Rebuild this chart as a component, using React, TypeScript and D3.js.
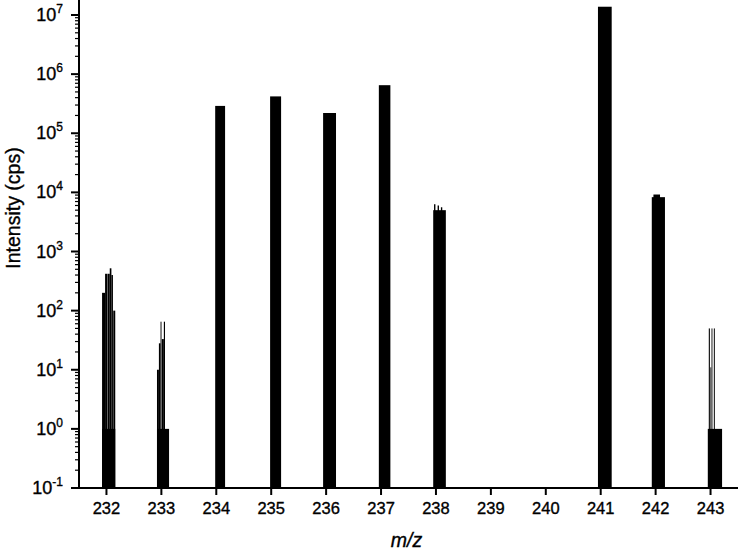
import React from 'react';
import * as d3 from 'd3';

// chart size and plot edges
const width = 742;
const height = 554;
const left = 79;
const right = 738;
const bottom = 488;
const top = 15; // position of 10^7

const mzTicks = [232, 233, 234, 235, 236, 237, 238, 239, 240, 241, 242, 243];
const decades = [-1, 0, 1, 2, 3, 4, 5, 6, 7];

// each segment: [mz start, mz end, intensity (cps)]
type Seg = [number, number, number];

const peak232: Seg[] = [
  [231.92, 232.16, 1],
  [231.92, 231.975, 200],
  [231.975, 232.02, 420],
  [232.026, 232.06, 420],
  [232.06, 232.09, 520],
  [232.09, 232.118, 400],
  [232.124, 232.16, 100],
];
const peak233: Seg[] = [
  [232.92, 233.14, 1],
  [232.92, 232.955, 10],
  [232.955, 232.985, 28],
  [232.985, 233.002, 65],
  [233.008, 233.045, 33],
  [233.045, 233.066, 65],
];
const peak234: Seg[] = [[233.98, 234.16, 2.9e5]];
const peak235: Seg[] = [[234.98, 235.18, 4.2e5]];
const peak236: Seg[] = [[235.945, 236.18, 2.2e5]];
const peak237: Seg[] = [[236.96, 237.17, 6.5e5]];
const peak238: Seg[] = [
  [237.95, 238.18, 5000],
  [237.965, 237.99, 6300],
  [238.03, 238.055, 6000],
  [238.09, 238.115, 5600],
];
const peak241: Seg[] = [[240.95, 241.2, 1.38e7]];
const peak242: Seg[] = [
  [241.93, 242.17, 8300],
  [241.96, 242.08, 9200],
];
const peak243: Seg[] = [
  [242.95, 243.21, 1],
  [242.968, 242.988, 50],
  [242.998, 243.012, 11],
  [243.018, 243.034, 50],
  [243.06, 243.078, 50],
];

const allPeaks = [peak232, peak233, peak234, peak235, peak236, peak237, peak238, peak241, peak242, peak243];

const font = 'Liberation Sans, Arial, Helvetica, sans-serif';

const App = () => {
  const x = d3.scaleLinear().domain([231.5, 243.5]).range([left, right]);
  const y = d3.scaleLog().domain([0.1, 1e7]).range([bottom, top]);

  const minorTicks = y.ticks().filter((t) => {
    const m = t / Math.pow(10, Math.floor(Math.log10(t) + 1e-9));
    return Math.abs(m - 1) > 1e-6;
  });
  const extraMinor = [2e7].filter((t) => y(t) > 0);

  return (
    <svg
      width={width}
      height={height}
      style={{ position: 'absolute', left: 0, top: 0, background: '#fff' }}
      fontFamily={font}
    >
      {/* peaks */}
      {allPeaks.map((segs, i) => (
        <g key={i}>
          {segs.map((s, j) => (
            <rect
              key={j}
              x={x(s[0])}
              width={x(s[1]) - x(s[0])}
              y={y(s[2])}
              height={bottom - y(s[2])}
              fill="#000"
            />
          ))}
        </g>
      ))}

      {/* y axis */}
      <line x1={left} x2={left} y1={0} y2={bottom + 1} stroke="#000" strokeWidth={2} />
      {decades.map((d) => (
        <line key={d} x1={left - 8} x2={left} y1={y(Math.pow(10, d))} y2={y(Math.pow(10, d))} stroke="#000" strokeWidth={2} />
      ))}
      {minorTicks.concat(extraMinor).map((t, i) => (
        <line key={i} x1={left - 4} x2={left} y1={y(t)} y2={y(t)} stroke="#000" strokeWidth={1.2} />
      ))}
      <g stroke="#000" strokeWidth={0.35}>
        {decades.map((d) => (
          <text key={d} x={63} y={y(Math.pow(10, d)) + 6} textAnchor="end" fontSize={18} fill="#000">
            <tspan>10</tspan>
            <tspan dy={-8} fontSize={12}>{d}</tspan>
          </text>
        ))}
        <text
          transform={`translate(20, 208) rotate(-90)`}
          textAnchor="middle"
          fontSize={19.5}
          fill="#000"
        >
          Intensity (cps)
        </text>
      </g>

      {/* x axis */}
      <line x1={left - 1} x2={right} y1={bottom} y2={bottom} stroke="#000" strokeWidth={2} />
      {mzTicks.map((t) => (
        <g key={t} transform={`translate(${x(t)}, ${bottom})`}>
          <line y1={0} y2={7} stroke="#000" strokeWidth={2} />
          <text y={26} textAnchor="middle" fontSize={16.5} fill="#000" stroke="#000" strokeWidth={0.35}>
            {t}
          </text>
        </g>
      ))}
      <text
        x={(left + right) / 2 - 2}
        y={547}
        textAnchor="middle"
        fontSize={19.5}
        fontStyle="italic"
        fill="#000"
        stroke="#000"
        strokeWidth={0.35}
      >
        m/z
      </text>
    </svg>
  );
};

export default App;
